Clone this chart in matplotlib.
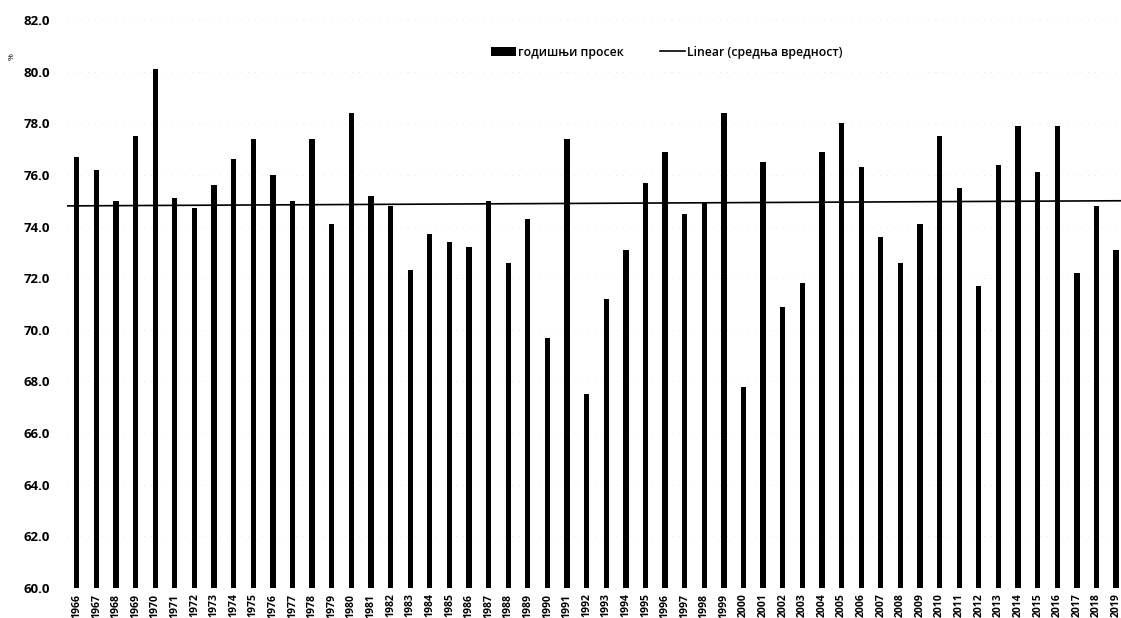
import numpy as np
import matplotlib
matplotlib.use("Agg")
import matplotlib.pyplot as plt

years = list(range(1966, 2020))
values = [76.7, 76.2, 75.0, 77.5, 80.1, 75.1, 74.7, 75.6, 76.6, 77.4,
          76.0, 75.0, 77.4, 74.1, 78.4, 75.2, 74.8, 72.3, 73.7, 73.4,
          73.2, 75.0, 72.6, 74.3, 69.7, 77.4, 67.5, 71.2, 73.1, 75.7,
          76.9, 74.5, 74.9, 78.4, 67.8, 76.5, 70.9, 71.8, 76.9, 78.0,
          76.3, 73.6, 72.6, 74.1, 77.5, 75.5, 71.7, 76.4, 77.9, 76.1,
          77.9, 72.2, 74.8, 73.1]
trend_start = 74.8
trend_end = 75.0
bar_label = "годишњи просек"
line_label = "Linear (средња вредност)"
y_label = "%"

plt.rcParams['font.family'] = ['Open Sans', 'DejaVu Sans']

fig = plt.figure(figsize=(11.21, 6.18), dpi=100)
ax = fig.add_axes([67/1121, 30/618, (1121-67)/1121, 568/618])

x = np.arange(len(years))
bars = ax.bar(x, [v - 60 for v in values], bottom=60, width=0.27, color='black',
              label=bar_label, zorder=3)
line, = ax.plot([-0.5, len(years) - 0.5], [trend_start, trend_end],
                color='black', lw=1.2, label=line_label, zorder=4)

ax.set_ylim(60, 82)
ax.set_xlim(-0.5, len(years) - 0.75)
yt = np.arange(60, 82.1, 2)
ax.set_yticks(yt)
ax.set_yticklabels([f"{v:.1f}" for v in yt], fontsize=9.5, fontweight='bold')
ax.set_xticks(x)
ax.set_xticklabels([str(y) for y in years], rotation=90, fontsize=7.5, fontweight='bold')
ax.tick_params(axis='both', length=0, pad=4)
ax.tick_params(axis='y', pad=12)
for s in ax.spines.values():
    s.set_visible(False)
ax.yaxis.grid(True, color='#cccccc', linestyle=(0, (1, 9)), lw=0.5, zorder=0)

fig.text(12/1121, 1 - 57/618, y_label, fontsize=6, rotation=90, ha='center', va='center')

leg = ax.legend(handles=[bars, line], labels=[bar_label, line_label],
                loc='upper center', bbox_to_anchor=(600/1054, 0.974), ncol=2, frameon=False,
                fontsize=8.8, handlelength=2.0, handletextpad=0.2, columnspacing=3.0)
for t in leg.get_texts():
    t.set_fontweight('semibold')

fig.savefig("out.png", dpi=100)
